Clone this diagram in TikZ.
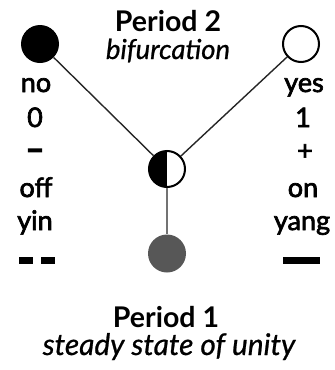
\documentclass[tikz,border=0pt]{standalone}
\usepackage{fontspec}
\setmainfont{Lato}
\begin{document}
\begin{tikzpicture}[x=1pt,y=-1pt]
\tikzset{
  lbl/.style={font=\fontsize{27}{30}\selectfont\addfontfeature{FakeBold=2.5}, anchor=base, inner sep=0pt},
  ttl/.style={font=\fontsize{28.5}{30}\selectfont\bfseries, anchor=base, inner sep=0pt},
  sub/.style={font=\fontsize{27.5}{30}\selectfont\itshape\addfontfeature{FakeBold=0.8}, anchor=base, inner sep=0pt},
  dot/.style={circle, minimum size=38pt, inner sep=0pt},
  ring/.style={circle, minimum size=36pt, inner sep=0pt, draw=black, line width=2pt, fill=white},
  link/.style={draw=black!85, line width=1.4pt},
  stem/.style={draw=black!55, line width=1.6pt},
  bar/.style={fill=black, inner sep=0pt, minimum height=7pt}
}
\useasboundingbox (0,0) rectangle (335,370);
% circles
\node[dot, fill=black] (no) at (40,44) {};
\node[ring] (yes) at (301,44) {};
\node[ring, path picture={\fill[black] (path picture bounding box.south west) rectangle (path picture bounding box.north);}] (bif) at (167,169) {};
\node[dot, fill=black!66] (one) at (167,253.5) {};
% connectors
\draw[link] (no) -- (bif);
\draw[link] (yes) -- (bif);
\draw[stem] (bif) -- (one);
% titles
\node[ttl] (p2) at (168,31) {Period 2};
\node[sub] (p2s) at (168,59) {bifurcation};
\node[ttl] (p1) at (166,327) {Period 1};
\node[sub, font=\fontsize{29.8}{32}\selectfont\itshape\addfontfeature{FakeBold=0.8}] (p1s) at (169,355) {steady state of unity};
% left column
\node[lbl] (lno) at (36,92) {no};
\node[lbl] (lzero) at (35,127) {0};
\node[lbl, font=\fontsize{32}{32}\selectfont\bfseries\addfontfeature{FakeBold=4}] (lminus) at (35,160) {–};
\node[lbl] (loff) at (36,197) {off};
\node[lbl] (lyin) at (35,230) {yin};
\node[bar, minimum width=14pt] (lbar1) at (26,260) {};
\node[bar, minimum width=14pt] (lbar2) at (47.5,260) {};
% right column
\node[lbl] (ryes) at (304,92) {yes};
\node[lbl] (rone) at (303,127) {1};
\node[lbl] (rplus) at (305,160) {+};
\node[lbl] (ron) at (303,197) {on};
\node[lbl] (ryang) at (302,230) {yang};
\node[bar, minimum width=37pt] (rbar) at (301.5,260.5) {};
\end{tikzpicture}
\end{document}
